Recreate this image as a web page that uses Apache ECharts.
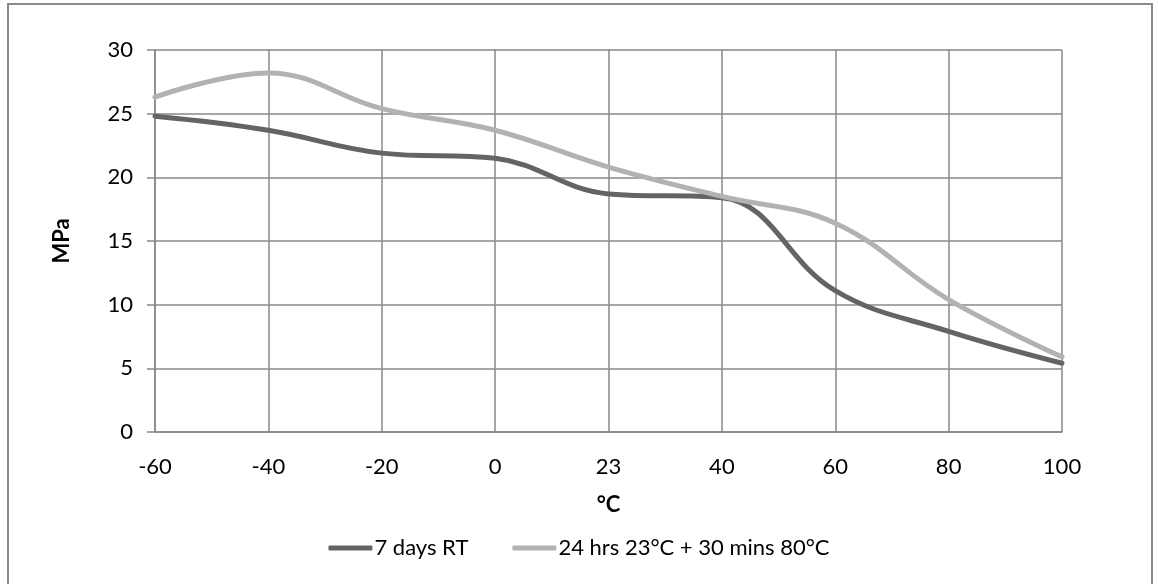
<!DOCTYPE html>
<html>
<head>
<meta charset="utf-8">
<script src="https://cdn.jsdelivr.net/npm/echarts@6/dist/echarts.min.js"></script>
<style>html,body{margin:0;padding:0;background:#fff;}#c{width:1158px;height:584px;}</style>
</head>
<body>
<div id="c"></div>
<script>
const categories = ['-60', '-40', '-20', '0', '23', '40', '60', '80', '100'];
const seriesNames = ['7 days RT', '24 hrs 23°C + 30 mins 80°C'];
const rtValues = [24.8, 23.7, 21.9, 21.5, 18.7, 18.4, 11.1, 7.9, 5.4];
const curedValues = [26.3, 28.2, 25.4, 23.7, 20.8, 18.5, 16.4, 10.4, 5.9];
const yTicks = { min: 0, max: 30, interval: 5 };

const FONT = 'Lato, "Open Sans", sans-serif';
const GRID = '#888888';
const chart = echarts.init(document.getElementById('c'));
chart.setOption({
  animation: false,
  backgroundColor: '#ffffff',
  textStyle: { fontFamily: FONT, color: '#000' },
  graphic: [{
    type: 'rect', silent: true, z: -1,
    shape: { x: 8, y: 4, width: 1144, height: 620 },
    style: { fill: 'none', stroke: '#8a8a8a', lineWidth: 2 }
  }],
  grid: { left: 155, right: 96, top: 50, bottom: 152, containLabel: false },
  legend: {
    bottom: 20, left: 'center',
    icon: 'roundRect', itemWidth: 44, itemHeight: 5, itemGap: 44,
    textStyle: { fontFamily: FONT, fontSize: 22, color: '#000', padding: [0, 0, 0, -3] },
    data: seriesNames
  },
  xAxis: {
    type: 'category', data: categories, boundaryGap: false,
    name: '°C', nameLocation: 'middle', nameGap: 62,
    nameTextStyle: { fontFamily: FONT, fontSize: 22, fontWeight: 'bold', color: '#000' },
    axisLine: { show: true, lineStyle: { color: GRID, width: 1.5 } },
    axisTick: { show: false },
    axisLabel: { fontFamily: FONT, fontSize: 22, color: '#000', margin: 24 },
    splitLine: { show: true, lineStyle: { color: GRID, width: 1.5 } }
  },
  yAxis: {
    type: 'value', min: yTicks.min, max: yTicks.max, interval: yTicks.interval,
    name: 'MPa', nameLocation: 'middle', nameGap: 82, nameRotate: 90,
    nameTextStyle: { fontFamily: FONT, fontSize: 22, fontWeight: 'bold', color: '#000' },
    axisLine: { show: true, lineStyle: { color: GRID, width: 1.5 } },
    axisTick: { show: true, length: 8, inside: false, lineStyle: { color: GRID, width: 1.5 } },
    axisLabel: { fontFamily: FONT, fontSize: 22, color: '#000', margin: 22 },
    splitLine: { show: true, lineStyle: { color: GRID, width: 1.5 } }
  },
  series: [
    {
      name: seriesNames[0], type: 'line', data: rtValues, smooth: 0.4,
      showSymbol: false, symbol: 'none',
      lineStyle: { color: '#646464', width: 5, cap: 'round' },
      itemStyle: { color: '#646464' }
    },
    {
      name: seriesNames[1], type: 'line', data: curedValues, smooth: 0.4,
      showSymbol: false, symbol: 'none',
      lineStyle: { color: '#b2b2b2', width: 5, cap: 'round' },
      itemStyle: { color: '#b2b2b2' }
    }
  ]
});
</script>
</body>
</html>
